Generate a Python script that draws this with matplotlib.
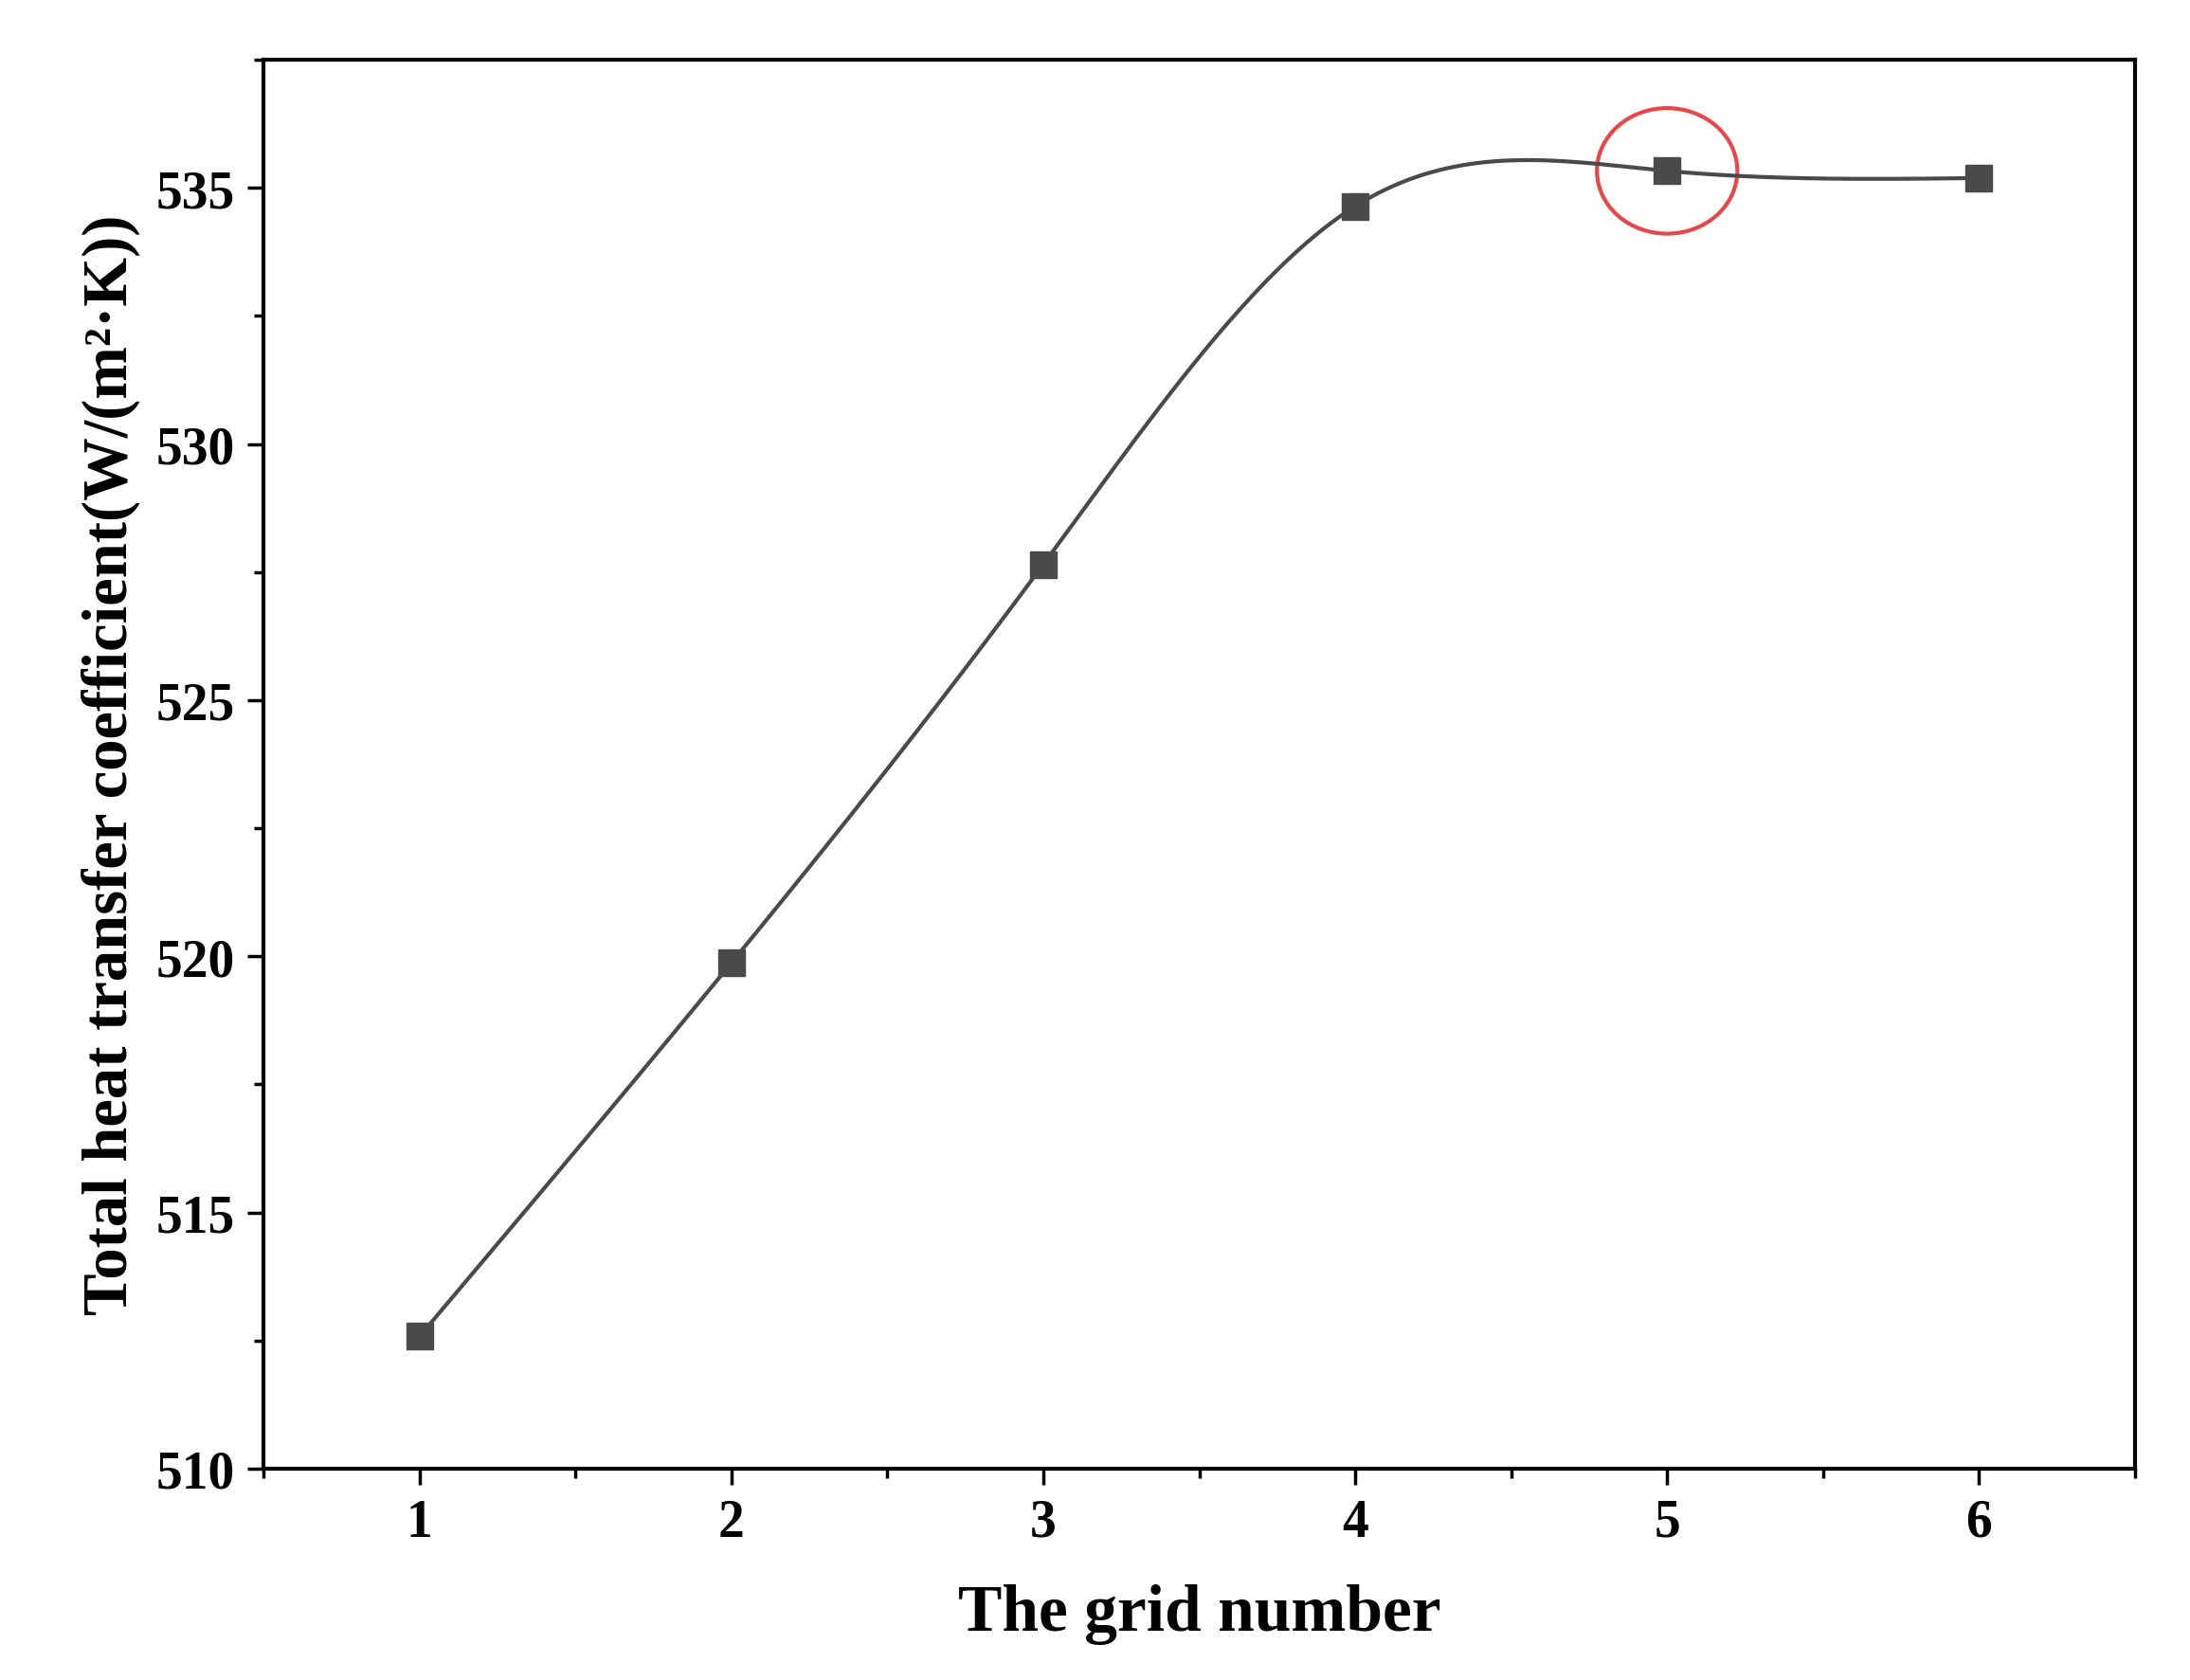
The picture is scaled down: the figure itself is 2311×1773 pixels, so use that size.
import numpy as np
import matplotlib
matplotlib.use("Agg")
import matplotlib.pyplot as plt
from matplotlib.patches import Ellipse
from matplotlib.ticker import MultipleLocator

grid_number = [1, 2, 3, 4, 5, 6]
htc = [512.58, 519.87, 527.65, 534.64, 535.33, 535.19]
highlight_idx = 4


def natural_spline(x, y, xs):
    x = np.asarray(x, float); y = np.asarray(y, float)
    n = len(x); h = np.diff(x)
    A = np.zeros((n, n)); b = np.zeros(n)
    A[0, 0] = A[-1, -1] = 1
    for i in range(1, n - 1):
        A[i, i - 1] = h[i - 1]; A[i, i] = 2 * (h[i - 1] + h[i]); A[i, i + 1] = h[i]
        b[i] = 3 * ((y[i + 1] - y[i]) / h[i] - (y[i] - y[i - 1]) / h[i - 1])
    c = np.linalg.solve(A, b)
    out = np.empty_like(xs)
    for k, xv in enumerate(xs):
        i = min(np.searchsorted(x, xv, side="right") - 1, n - 2)
        dx = xv - x[i]
        bi = (y[i + 1] - y[i]) / h[i] - h[i] * (2 * c[i] + c[i + 1]) / 3
        di = (c[i + 1] - c[i]) / (3 * h[i])
        out[k] = y[i] + bi * dx + c[i] * dx ** 2 + di * dx ** 3
    return out


plt.rcParams["font.family"] = ["Liberation Serif", "DejaVu Serif"]
plt.rcParams["font.weight"] = "bold"

fig = plt.figure(figsize=(23.11, 17.74), dpi=100)
ax = fig.add_axes([278 / 2311, 1 - 1551 / 1774, 1975 / 2311, 1487 / 1774])

xs = np.linspace(1, 6, 400)
ax.plot(xs, natural_spline(grid_number, htc, xs), color="#4a4a4a", linewidth=3)
ax.plot(grid_number, htc, "s", color="#4a4a4a", markersize=20)

ax.add_patch(Ellipse((grid_number[highlight_idx], htc[highlight_idx]), 0.45, 2.45,
                     fill=False, edgecolor="#e8474a", linewidth=3))

ax.set_xlim(0.5, 6.5)
ax.set_ylim(510, 537.5)
ax.xaxis.set_major_locator(MultipleLocator(1))
ax.xaxis.set_minor_locator(MultipleLocator(0.5))
ax.yaxis.set_major_locator(MultipleLocator(5))
ax.yaxis.set_minor_locator(MultipleLocator(2.5))
ax.tick_params(which="major", direction="out", length=12, width=2.5, labelsize=40, pad=10)
ax.tick_params(which="minor", direction="out", length=7, width=2.5)
for s in ax.spines.values():
    s.set_linewidth(3)
for lab in ax.get_xticklabels() + ax.get_yticklabels():
    lab.set_fontweight("bold")

ax.set_xlabel("The grid number", fontsize=50, fontweight="bold", labelpad=28)
ax.set_ylabel("Total heat transfer coefficient(W/(m²·K))", fontsize=48, fontweight="bold", labelpad=12)

fig.savefig("out.png", dpi=100)
